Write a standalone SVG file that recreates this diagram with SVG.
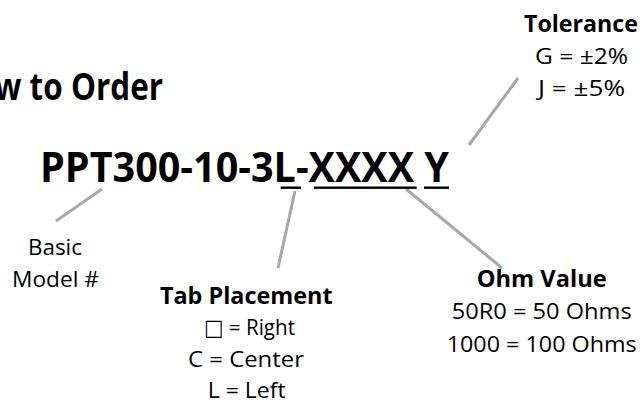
<svg xmlns="http://www.w3.org/2000/svg" width="640" height="402" viewBox="0 0 640 402">
  <style>
    text { font-family: "Open Sans", "Noto Sans", "DejaVu Sans", sans-serif; fill: #000; }
    .b { font-weight: 700; }
    .lbl { font-size: 23px; text-anchor: middle; }
    .val { font-size: 22px; text-anchor: middle; }
    .main { font-size: 41px; font-weight: 700; }
    .ul { fill: #000; }
    .conn { stroke: #a8a8a8; stroke-width: 3; stroke-linecap: butt; fill: none; }
  </style>
  <rect width="640" height="402" fill="#fff"/>

  <g id="connectors">
    <line class="conn" x1="102" y1="189" x2="56" y2="221"/>
    <line class="conn" x1="295" y1="191" x2="278" y2="268"/>
    <line class="conn" x1="406" y1="189" x2="502" y2="268"/>
    <line class="conn" x1="518" y1="78" x2="469" y2="145"/>
  </g>

  <g id="heading">
    <text class="b" x="-49" y="100" font-size="37" textLength="212" lengthAdjust="spacingAndGlyphs">How to Order</text>
  </g>

  <g id="part-number">
    <text class="main" x="40" y="182.3" textLength="409" lengthAdjust="spacingAndGlyphs">PPT300-10-3L-XXXX Y</text>
    <rect class="ul" x="280.7" y="186.5" width="20.3" height="2.4"/>
    <rect class="ul" x="314" y="186.5" width="102.7" height="2.4"/>
    <rect class="ul" x="424" y="186.5" width="25" height="2.4"/>
  </g>

  <g id="tolerance">
    <text class="lbl b" x="581" y="31.7" textLength="114" lengthAdjust="spacingAndGlyphs">Tolerance</text>
    <text class="val" x="581.5" y="64" textLength="93" lengthAdjust="spacingAndGlyphs">G = ±2%</text>
    <text class="val" x="581.5" y="95.7" textLength="87" lengthAdjust="spacingAndGlyphs">J = ±5%</text>
  </g>

  <g id="basic-model">
    <text class="val" x="55" y="255" textLength="54" lengthAdjust="spacingAndGlyphs">Basic</text>
    <text class="val" x="55.5" y="287.3" textLength="87" lengthAdjust="spacingAndGlyphs">Model #</text>
  </g>

  <g id="tab-placement">
    <text class="lbl b" x="246.3" y="304.3" textLength="172.7" lengthAdjust="spacingAndGlyphs">Tab Placement</text>
    <text class="val" x="249.5" y="335" textLength="91" lengthAdjust="spacingAndGlyphs">□ = Right</text>
    <text class="val" x="246" y="366.7" textLength="116" lengthAdjust="spacingAndGlyphs">C = Center</text>
    <text class="val" x="246.7" y="397.5" textLength="78" lengthAdjust="spacingAndGlyphs">L = Left</text>
  </g>

  <g id="ohm-value">
    <text class="lbl b" x="541.7" y="287.3" textLength="130" lengthAdjust="spacingAndGlyphs">Ohm Value</text>
    <text class="val" x="541.7" y="319.3" textLength="180" lengthAdjust="spacingAndGlyphs">50R0 = 50 Ohms</text>
    <text class="val" x="541.7" y="351.7" textLength="190" lengthAdjust="spacingAndGlyphs">1000 = 100 Ohms</text>
  </g>
</svg>
